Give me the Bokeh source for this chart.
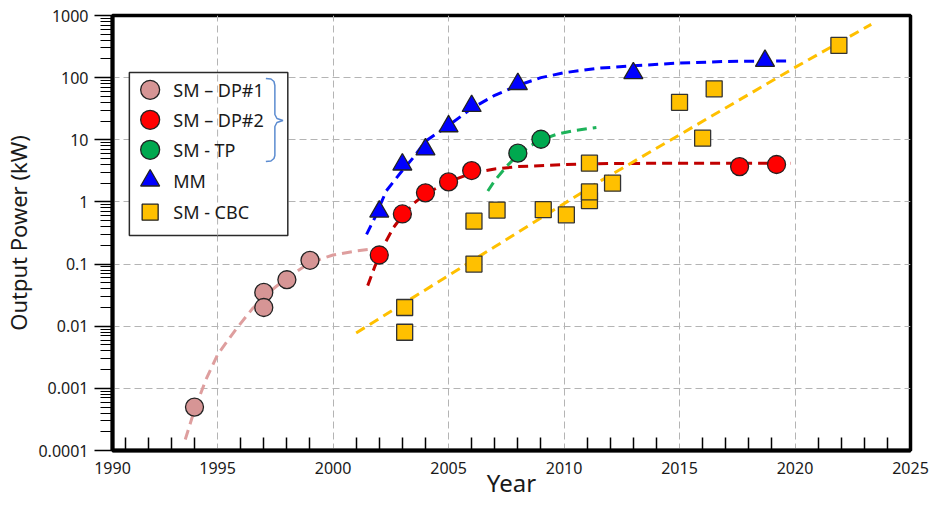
from bokeh.plotting import figure
from bokeh.models import FixedTicker, CustomJSTickFormatter, Range1d
from bokeh.core.properties import value
from bokeh.embed import file_html
from bokeh.resources import INLINE

# ---------------- data ----------------
dp1_year = [1994.0, 1997.0, 1997.0, 1998.0, 1999.0]
dp1_power = [0.0005, 0.035, 0.02, 0.056, 0.115]

dp2_year = [2002.0, 2003.0, 2004.0, 2005.0, 2006.0, 2017.6, 2019.2]
dp2_power = [0.14, 0.64, 1.4, 2.1, 3.2, 3.7, 4.0]

tp_year = [2008.0, 2009.0]
tp_power = [6.1, 10.2]

mm_year = [2002.0, 2003.0, 2004.0, 2005.0, 2006.0, 2008.0, 2013.0, 2018.7]
mm_power = [0.7, 4.0, 7.0, 16.5, 35.0, 79.0, 118.0, 186.0]

cbc_year = [2003.1, 2003.1, 2006.1, 2006.1, 2007.1, 2009.1, 2010.1, 2011.1, 2011.1,
            2011.1, 2012.1, 2015.0, 2016.0, 2016.5, 2021.9]
cbc_power = [0.02, 0.008, 0.1, 0.49, 0.74, 0.75, 0.62, 1.05, 1.45,
             4.2, 2.0, 40.0, 10.6, 66.0, 330.0]

# trend (fit) curves
dp1_fit_year = [1993.6, 1994.0, 1994.5, 1995.0, 1995.8, 1996.5, 1997.3, 1998.0, 1999.0, 2000.0, 2001.0, 2001.7]
dp1_fit_power = [0.00015, 0.00045, 0.0014, 0.0035, 0.009, 0.019, 0.037, 0.06, 0.105, 0.14, 0.163, 0.175]

dp2_fit_year = [2001.5, 2001.8, 2002.2, 2002.6, 2003.0, 2003.5, 2004.0, 2005.0, 2006.0, 2007.0,
                2008.0, 2010.0, 2012.0, 2015.0, 2019.8]
dp2_fit_power = [0.045, 0.09, 0.2, 0.38, 0.6, 0.95, 1.35, 2.1, 2.9, 3.4, 3.7, 4.0, 4.15, 4.2, 4.2]

tp_fit_year = [2006.7, 2007.0, 2007.5, 2008.0, 2008.5, 2009.0, 2009.7, 2010.5, 2011.4]
tp_fit_power = [1.5, 2.2, 3.7, 5.7, 7.8, 10.0, 12.3, 14.2, 15.8]

mm_fit_year = [2001.45, 2001.8, 2002.3, 2003.0, 2003.5, 2004.0, 2005.0, 2006.0, 2007.0, 2008.0,
               2009.0, 2010.0, 2011.5, 2013.0, 2015.0, 2017.0, 2019.8]
mm_fit_power = [0.3, 0.55, 1.5, 3.2, 5.3, 9.5, 17.0, 32.0, 52.0, 75.0,
                100.0, 120.0, 142.0, 155.0, 172.0, 182.0, 186.0]

cbc_fit_year = [2001.0, 2007.0, 2011.6, 2020.0, 2023.3]
cbc_fit_power = [0.0078, 0.19, 2.2, 146.0, 720.0]

# legend entries
legend_labels = ["SM \u2013 DP#1", "SM \u2013 DP#2", "SM - TP", "MM", "SM - CBC"]
legend_markers = ["circle", "circle", "circle", "triangle", "square"]
legend_fills = ["#d69595", "#ff0000", "#00a84f", "#0000ff", "#ffc000"]
legend_sizes = [19, 19, 19, 19, 16]

# legend placement (in data coordinates of this chart)
legend_box = dict(left=1991.18, right=1998.04, top=121.0, bottom=0.288)
legend_marker_x = 1992.08
legend_text_x = 1993.08
legend_row_y = [63.7, 20.97, 6.90, 2.212, 0.683]

# legend grouping bracket (decoration)
bracket_x = [1997.09, 1997.31, 1997.44, 1997.48, 1997.48, 1997.57, 1997.83, 1997.57, 1997.48,
             1997.48, 1997.44, 1997.31, 1997.09]
bracket_y = [96.9, 95.1, 86.7, 74.7, 25.5, 22.0, 20.4, 18.97, 16.36, 5.58, 5.0, 4.56, 4.47]

x_major = [1990.45, 1995, 2000, 2005, 2010, 2015, 2020, 2025]
x_minor = [y for y in range(1991, 2025) if y % 5 != 0]
x_grid = [1995, 2000, 2005, 2010, 2015, 2020]
y_major = [0.0001, 0.001, 0.01, 0.1, 1, 10, 100, 1000]
y_minor = [k * d for d in [0.0001, 0.001, 0.01, 0.1, 1, 10, 100] for k in range(2, 10)]

FONT = "Noto Sans"
TXT = "#1a1a1a"
GRID = "#b4b4b4"

p = figure(width=933, height=505, x_range=Range1d(1990.45, 2025), y_range=Range1d(1e-4, 1e3),
           y_axis_type="log", output_backend="svg", toolbar_location=None,
           min_border_left=109, min_border_right=23, min_border_top=15, min_border_bottom=55)
p.outline_line_color = "black"
p.outline_line_width = 3.5
p.background_fill_color = "white"

# axes
xa = p.xaxis[0]
xa.ticker = FixedTicker(ticks=x_major, minor_ticks=x_minor)
xa.formatter = CustomJSTickFormatter(code="return Math.round(tick).toString();")
xa.major_tick_in = 0
xa.major_tick_out = 0
xa.minor_tick_in = 13
xa.minor_tick_out = 0
xa.minor_tick_line_color = "black"
xa.minor_tick_line_width = 1.5
xa.axis_line_width = 4
xa.axis_line_color = "black"
xa.major_label_text_font = FONT
xa.major_label_text_font_size = "16px"
xa.major_label_text_color = TXT
xa.major_label_standoff = 11
xa.axis_label = "Year"
xa.axis_label_text_font = FONT
xa.axis_label_text_font_size = "24px"
xa.axis_label_text_font_style = "normal"
xa.axis_label_text_color = TXT
xa.axis_label_standoff = -11

ya = p.yaxis[0]
ya.ticker = FixedTicker(ticks=y_major, minor_ticks=y_minor)
ya.formatter = CustomJSTickFormatter(code="return tick.toString();")
ya.major_tick_in = 0
ya.major_tick_out = 18
ya.minor_tick_in = 0
ya.minor_tick_out = 12
ya.major_tick_line_width = 1.5
ya.minor_tick_line_width = 1.2
ya.major_tick_line_color = "black"
ya.minor_tick_line_color = "black"
ya.axis_line_width = 4
ya.axis_line_color = "black"
ya.major_label_text_font = FONT
ya.major_label_text_font_size = "16px"
ya.major_label_text_color = TXT
ya.major_label_standoff = 6
ya.axis_label = "Output Power (kW)"
ya.axis_label_text_font = FONT
ya.axis_label_text_font_size = "22px"
ya.axis_label_text_font_style = "normal"
ya.axis_label_text_color = TXT
ya.axis_label_standoff = 2

# grid
p.xgrid.ticker = FixedTicker(ticks=x_grid)
p.ygrid.ticker = FixedTicker(ticks=y_major)
for g in (p.xgrid[0], p.ygrid[0]):
    g.grid_line_color = GRID
    g.grid_line_dash = "7 4"
    g.grid_line_width = 1

# trend lines
dash = "10 6"
p.line(dp1_fit_year, dp1_fit_power, line_color="#de9e9e", line_width=3, line_dash=dash)
p.line(dp2_fit_year, dp2_fit_power, line_color="#c00000", line_width=3, line_dash=dash)
p.line(tp_fit_year, tp_fit_power, line_color="#1db35a", line_width=3, line_dash=dash)
p.line(mm_fit_year, mm_fit_power, line_color="#0000ff", line_width=3, line_dash=dash)
p.line(cbc_fit_year, cbc_fit_power, line_color="#ffc000", line_width=3, line_dash=dash)

# markers
mk = dict(line_color="#222222", line_width=1.3)
p.scatter(dp1_year, dp1_power, marker="circle", size=18, fill_color=legend_fills[0], **mk)
p.scatter(dp2_year, dp2_power, marker="circle", size=18, fill_color=legend_fills[1], **mk)
p.scatter(tp_year, tp_power, marker="circle", size=18, fill_color=legend_fills[2], **mk)
p.scatter(mm_year, mm_power, marker="triangle", size=19, fill_color=legend_fills[3], **mk)
p.scatter(cbc_year, cbc_power, marker="square", size=16, fill_color=legend_fills[4],
          line_color="#333333", line_width=1.3)

# legend (box, symbols, labels)
p.quad(left=[legend_box["left"]], right=[legend_box["right"]], top=[legend_box["top"]],
       bottom=[legend_box["bottom"]], fill_color="white", line_color="#2a2a2a", line_width=1.5)
p.segment(x0=[1995], y0=[legend_box["bottom"]], x1=[1995], y1=[legend_box["top"]],
          line_color=GRID, line_dash="7 4", line_width=1)
for i in range(len(legend_labels)):
    p.scatter([legend_marker_x], [legend_row_y[i]], marker=legend_markers[i], size=legend_sizes[i],
              fill_color=legend_fills[i], line_color="#222222", line_width=1.3)
p.text(x=[legend_text_x] * len(legend_labels), y=legend_row_y, text=legend_labels,
       text_font=value(FONT), text_font_size="18px", text_color=TXT,
       text_baseline="middle", text_align="left")
p.line(bracket_x, bracket_y, line_color="#5b8bd0", line_width=1.5)

open("out.html", "w").write(file_html(p, INLINE))
